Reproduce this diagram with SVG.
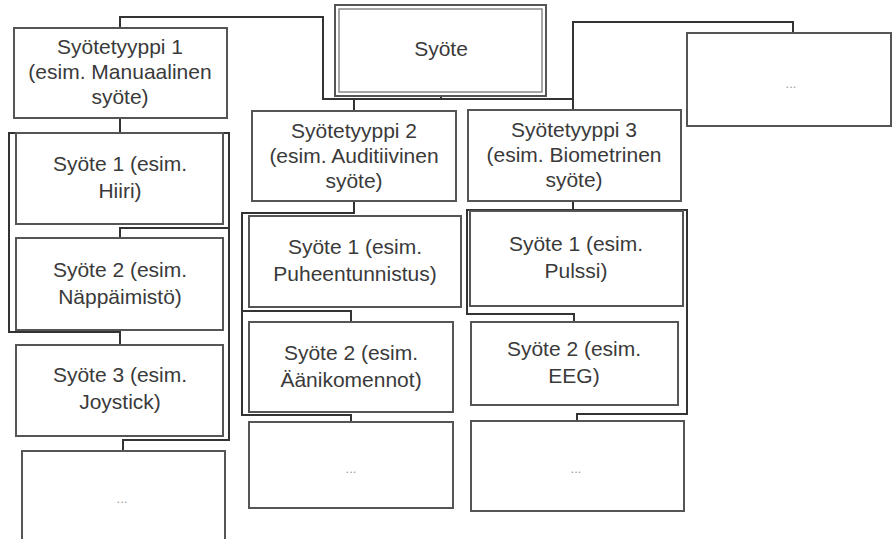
<svg xmlns="http://www.w3.org/2000/svg" width="893" height="539" viewBox="0 0 893 539">
<style>
.box{fill:#fff;stroke:#555;stroke-width:2}
.t{font-family:"Liberation Sans",Arial,sans-serif;font-size:21px;fill:#3a3a3a;text-anchor:middle}
.d{font-family:"Liberation Sans",Arial,sans-serif;font-size:13px;fill:#999;text-anchor:middle}
.c{fill:none;stroke:#333;stroke-width:2}
</style>
<rect width="893" height="539" fill="#fff"/>
<g id="connectors">
<path class="c" d="M441,97 V99 H323 V17 H120 V28"/>
<path class="c" d="M354,99 V111"/>
<path class="c" d="M441,99 H573 V22 H793 V33"/>
<path class="c" d="M573,99 V110"/>
<path class="c" d="M120,118 V133 H9 V332 H120 V345"/>
<path class="c" d="M120,133 H229 V440 H123 V451"/>
<path class="c" d="M229,228 H120 V238"/>
<path class="c" d="M354,201 V213 H242 V415 H351 V422"/>
<path class="c" d="M242,311 H351 V322"/>
<path class="c" d="M573,201 V210 H467 V314 H574 V322"/>
<path class="c" d="M573,210 H687 V414 H577 V421"/>
</g>
<g id="syote">
<rect x="335" y="5" width="211" height="91" fill="#fff" stroke="#555" stroke-width="2"/>
<rect x="339" y="9" width="203" height="83" fill="#fff" stroke="#888" stroke-width="1.5"/>
<text class="t" x="441" y="56">Syöte</text>
</g>
<g id="tyyppi1">
<rect class="box" x="14" y="28" width="213" height="90"/>
<text class="t" x="120" y="54">Syötetyyppi 1</text>
<text class="t" x="120" y="79">(esim. Manuaalinen</text>
<text class="t" x="120" y="104">syöte)</text>
</g>
<g id="t1s1">
<rect class="box" x="16" y="133" width="207" height="91"/>
<text class="t" x="120" y="171">Syöte 1 (esim.</text>
<text class="t" x="120" y="198">Hiiri)</text>
</g>
<g id="t1s2">
<rect class="box" x="16" y="238" width="207" height="92"/>
<text class="t" x="120" y="277">Syöte 2 (esim.</text>
<text class="t" x="120" y="304">Näppäimistö)</text>
</g>
<g id="t1s3">
<rect class="box" x="16" y="345" width="207" height="91"/>
<text class="t" x="120" y="382">Syöte 3 (esim.</text>
<text class="t" x="120" y="409">Joystick)</text>
</g>
<g id="t1more">
<rect class="box" x="22" y="451" width="203" height="100"/>
<text class="d" x="122" y="503">...</text>
</g>
<g id="tyyppi2">
<rect class="box" x="252" y="111" width="204" height="90"/>
<text class="t" x="354" y="138">Syötetyyppi 2</text>
<text class="t" x="354" y="163">(esim. Auditiivinen</text>
<text class="t" x="354" y="188">syöte)</text>
</g>
<g id="t2s1">
<rect class="box" x="249" y="216" width="212" height="91"/>
<text class="t" x="355" y="254">Syöte 1 (esim.</text>
<text class="t" x="355" y="281">Puheentunnistus)</text>
</g>
<g id="t2s2">
<rect class="box" x="249" y="322" width="204" height="90"/>
<text class="t" x="351" y="360">Syöte 2 (esim.</text>
<text class="t" x="351" y="387">Äänikomennot)</text>
</g>
<g id="t2more">
<rect class="box" x="249" y="422" width="204" height="86"/>
<text class="d" x="351" y="473">...</text>
</g>
<g id="tyyppi3">
<rect class="box" x="468" y="110" width="213" height="91"/>
<text class="t" x="574" y="137">Syötetyyppi 3</text>
<text class="t" x="574" y="162">(esim. Biometrinen</text>
<text class="t" x="574" y="187">syöte)</text>
</g>
<g id="t3s1">
<rect class="box" x="470" y="211" width="213" height="95"/>
<text class="t" x="576" y="251">Syöte 1 (esim.</text>
<text class="t" x="576" y="278">Pulssi)</text>
</g>
<g id="t3s2">
<rect class="box" x="471" y="322" width="207" height="83"/>
<text class="t" x="574" y="356">Syöte 2 (esim.</text>
<text class="t" x="574" y="383">EEG)</text>
</g>
<g id="t3more">
<rect class="box" x="471" y="421" width="213" height="90"/>
<text class="d" x="576" y="473">...</text>
</g>
<g id="more">
<rect class="box" x="687" y="33" width="204" height="93"/>
<text class="d" x="791" y="88">...</text>
</g>
</svg>
